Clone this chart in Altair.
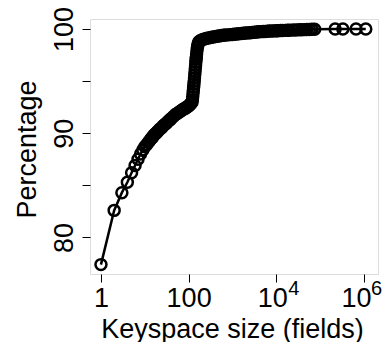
import altair as alt
import pandas as pd

# Keyspace size (fields) and cumulative percentage
sizes_low = [1, 2, 3, 4, 5, 6, 7, 8, 9, 10, 11, 12, 13, 14, 15, 16, 17, 18, 19, 20,
             22, 24, 26, 28, 30, 32, 35, 38, 40,
             45, 50, 55, 60, 65, 70, 75, 80, 85, 90, 95, 100,
             105, 110, 115, 120]
pct_low = [77.4, 82.6, 84.3, 85.3, 86.2, 86.9, 87.5, 88.0, 88.4, 88.7, 88.9, 89.1, 89.3, 89.5, 89.6, 89.8, 89.9, 90.0, 90.1, 90.2,
           90.4, 90.5, 90.7, 90.8, 90.9, 91.0, 91.2, 91.3, 91.4,
           91.6, 91.8, 91.9, 92.0, 92.1, 92.2, 92.3, 92.35, 92.4, 92.5, 92.55, 92.6,
           92.7, 92.8, 92.9, 93.0]

sizes_jump = [122, 124, 126, 128, 130, 132, 134, 136, 138, 140, 142, 144, 146, 148, 150, 152, 155, 158, 162, 166, 170]
pct_jump = [93.2, 93.5, 93.8, 94.1, 94.4, 94.7, 95.0, 95.3, 95.6, 95.9, 96.2, 96.5, 96.8, 97.1, 97.3, 97.6, 97.9, 98.2, 98.4, 98.6, 98.75]

sizes_high = [180, 200, 220, 250, 280, 320, 360, 400, 450, 500,
              560, 630, 700, 800, 900, 1000, 1100, 1250, 1400, 1600,
              1800, 2000, 2250, 2500, 2800, 3200, 3600, 4000, 4500, 5000,
              5600, 6300, 7000, 8000, 9000, 10000, 11000, 12500, 14000, 16000,
              18000, 20000, 24000, 28000, 33000, 38000, 44000, 50000, 57000, 65000,
              75000]
pct_high = [98.85, 98.95, 99.02, 99.08, 99.13, 99.18, 99.22, 99.26, 99.30, 99.33,
            99.36, 99.39, 99.41, 99.43, 99.45, 99.47, 99.49, 99.51, 99.53, 99.56,
            99.58, 99.60, 99.62, 99.64, 99.66, 99.68, 99.70, 99.72, 99.74, 99.75,
            99.76, 99.78, 99.79, 99.80, 99.81, 99.82, 99.83, 99.84, 99.85, 99.86,
            99.87, 99.88, 99.89, 99.90, 99.91, 99.92, 99.93, 99.94, 99.95, 99.96,
            99.97]

sizes_tail = [220000, 330000, 660000, 1100000]
pct_tail = [99.99, 99.99, 100.0, 100.0]

x_ticks = [1, 100, 10000, 1000000]
y_ticks = [80, 85, 90, 95, 100]
sup_at = [10000, 1000000]      # ticks written as 10 with a superscript
sup_text = ["4", "6"]

df = pd.DataFrame({
    "size": sizes_low + sizes_jump + sizes_high + sizes_tail,
    "pct": pct_low + pct_jump + pct_high + pct_tail,
})
sup_df = pd.DataFrame({"size": sup_at, "sup": sup_text})

FONT = "Liberation Sans"

x = alt.X(
    "size:Q",
    scale=alt.Scale(type="log", domain=[10 ** -0.25, 10 ** 6.32], nice=False),
    axis=alt.Axis(
        values=x_ticks,
        labelExpr="datum.value >= 10000 ? '10' : datum.label",
        labelOffset={"expr": "datum.value == 10000 ? -4 : (datum.value == 1000000 ? -8 : 0)"},
        title="Keyspace size (fields)",
        grid=False, domain=False, tickSize=8, tickColor="black", tickWidth=1,
        labelPadding=24, labelBaseline="alphabetic", labelFlush=False,
        labelFont=FONT, labelFontSize=27, labelColor="black",
        titleFont=FONT, titleFontSize=27, titleFontWeight="normal", titleColor="black",
        titleBaseline="alphabetic", titleY=63, titleX=142, titleAlign="center",
    ),
)
y = alt.Y(
    "pct:Q",
    scale=alt.Scale(domain=[76.5, 100.95], nice=False, zero=False),
    axis=alt.Axis(
        values=y_ticks,
        labelExpr="datum.value == 85 || datum.value == 95 ? '' : datum.label",
        title="Percentage",
        grid=False, domain=False, tickSize=8, tickColor="black", tickWidth=1,
        labelAngle=270, labelAlign="center", labelBaseline="alphabetic", labelPadding=10,
        labelFlush=False,
        labelFont=FONT, labelFontSize=27, labelColor="black",
        titleFont=FONT, titleFontSize=27, titleFontWeight="normal", titleColor="black",
        titleAngle=270, titleBaseline="alphabetic", titleAlign="center",
        titleX=-55, titleY=130,
    ),
)

base = alt.Chart(df)
line = base.mark_line(color="black", strokeWidth=2.5).encode(x=x, y=y)
pts = base.mark_point(filled=False, color="black", size=120, strokeWidth=2.5, opacity=1).encode(x=x, y=y)

sup_base = alt.Chart(sup_df)
sup4 = sup_base.transform_filter("datum.size == 10000").mark_text(
    font=FONT, fontSize=20, color="black", align="left", baseline="alphabetic", dx=12
).encode(x=x, y=alt.value(276), text="sup:N")
sup6 = sup_base.transform_filter("datum.size == 1000000").mark_text(
    font=FONT, fontSize=20, color="black", align="left", baseline="alphabetic", dx=7
).encode(x=x, y=alt.value(276), text="sup:N")

chart = alt.layer(line, pts, sup4, sup6).properties(
    width=288,
    height=255,
    autosize=alt.AutoSizeParams(type="none"),
    padding={"left": 82, "top": 11, "right": 4, "bottom": 68},
).configure_view(stroke="black", strokeWidth=1).configure(background="white")

chart.save("out.html", embed_options={"renderer": "svg", "actions": False})
